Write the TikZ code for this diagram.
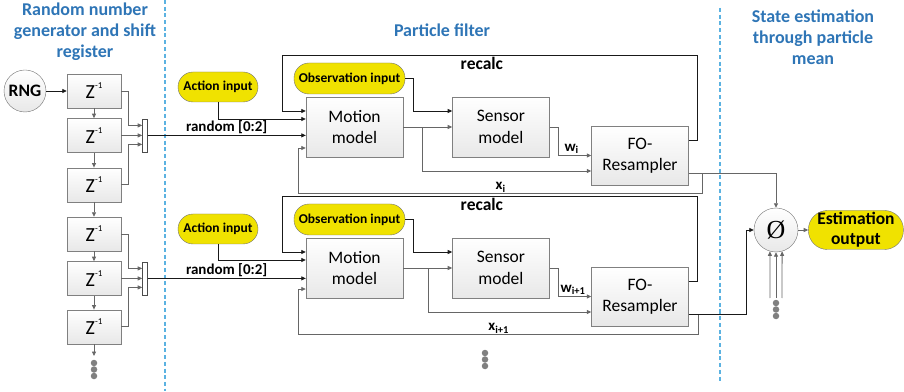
\documentclass[tikz,border=0pt]{standalone}
\usepackage{fontspec}
\setmainfont{Carlito}
\newfontfamily\phifont{Liberation Serif}
\usetikzlibrary{arrows.meta,positioning}
\definecolor{pfyellow}{RGB}{240,226,0}
\definecolor{pfblue}{RGB}{46,117,182}
\definecolor{pfsep}{RGB}{91,178,225}
\newcommand{\zinv}{{\fontsize{20}{20}\selectfont Z}\raisebox{10pt}{\fontsize{9}{9}\selectfont -1}}

\begin{document}
\begin{tikzpicture}[
    x=1pt, y=1pt,
    block/.style={draw=black!50, top color=white, bottom color=black!9, align=center, inner sep=0pt,
      minimum width=97pt, minimum height=60pt, font=\fontsize{17.5}{21.5}\selectfont},
    delay/.style={block, minimum width=54pt, minimum height=34pt},
    mux/.style={draw=black!70, fill=white, inner sep=0pt, minimum width=5pt, minimum height=33pt},
    pill/.style={draw=black!55, fill=pfyellow, inner sep=0pt, minimum height=30pt, rounded corners=15pt,
      font=\bfseries\fontsize{13.5}{16}\selectfont},
    round/.style={circle, draw=black!55, top color=white, bottom color=black!9, inner sep=0pt},
    ttl/.style={text=pfblue, align=center, font=\bfseries\fontsize{18}{21}\selectfont},
    lbl/.style={text=black, font=\bfseries\fontsize{15}{17}\selectfont, inner sep=1.5pt},
    dot/.style={circle, fill=black!50, inner sep=0pt, minimum size=6.5pt},
    sep/.style={pfsep, line width=2.8pt, dash pattern=on 4pt off 2.7pt},
    garr/.style={-{Triangle[length=4.5pt,width=4pt]}, line width=0.8pt, black!60},
    barr/.style={-{Triangle[length=4.5pt,width=4pt]}, line width=0.8pt, black!90}
  ]
  \useasboundingbox (0,0) rectangle (904,391);

  % section titles and separators
  \node[ttl] (ttlgen) at (85,359) {Random number\\generator and shift\\register};
  \node[ttl] (ttlpf) at (442,361) {Particle filter};
  \node[ttl] (ttlest) at (813,354) {State estimation\\through particle\\mean};
  \draw[sep] (165,391) -- (165,0);
  \draw[sep] (720,383) -- (720,10);

  % random number generator and shift register
  \node[round, minimum size=42pt, font=\bfseries\fontsize{17.5}{20}\selectfont] (rng) at (25,300) {RNG};
  \node[delay] (z1) at (94,300) {\zinv};
  \node[delay, below=10pt of z1] (z2) {\zinv};
  \node[delay, below=15pt of z2] (z3) {\zinv};
  \node[delay] (z4) at (94,157) {\zinv};
  \node[delay, below=10pt of z4] (z5) {\zinv};
  \node[delay, below=14pt of z5] (z6) {\zinv};
  \node[mux, right=21pt of z2] (mux1) {};
  \node[mux, right=21pt of z5] (mux2) {};
  \coordinate (zend) at (94,35);
  \node[dot] (zdot1) at (94,28) {};
  \node[dot] (zdot2) at (94,21.5) {};
  \node[dot] (zdot3) at (94,15) {};

  \draw[barr] (rng) -- (z1);
  \draw[garr] (z1) -- (z2);
  \draw[garr] (z2) -- (z3);
  \draw[garr] (z3) -- (z4);
  \draw[garr] (z4) -- (z5);
  \draw[garr] (z5) -- (z6);
  \draw[garr] (z6) -- (zend);
  \draw[garr] (z1.east) -- ++(7,0) |- ([yshift=10pt]mux1.west);
  \draw[garr] (z2.east) -- (mux1.west);
  \draw[garr] (z3.east) -- ++(7,0) |- ([yshift=-9pt]mux1.west);
  \draw[garr] (z4.east) -- ++(7,0) |- ([yshift=10pt]mux2.west);
  \draw[garr] (z5.east) -- (mux2.west);
  \draw[garr] (z6.east) -- ++(7,0) |- ([yshift=-9pt]mux2.west);

  % particle filter 1
  \node[pill, minimum width=80pt] (act1) at (218,304) {Action input};
  \node[pill, minimum width=111pt, minimum height=31pt] (obs1) at (349.5,312.5) {Observation input};
  \node[block] (motion1) at (354.5,264) {Motion\\model};
  \node[block, right=49pt of motion1] (sensor1) {Sensor\\model};
  \node[block, minimum height=59pt] (fo1) at (640,235.5) {FO-\\Resampler};

  \draw[barr] ([yshift=15pt]fo1.east) -- ++(9,0) -- ++(0,85.5) -- ++(-415,0)
    node[pos=0.52, below, lbl, font=\bfseries\fontsize{17.5}{20}\selectfont] {recalc}
    |- ([yshift=16pt]motion1.west);
  \draw[barr] (act1.south) |- ([yshift=8pt]motion1.west);
  \draw[barr] (mux1.east) -- (mux1.east -| motion1.west) node[midway, above, lbl] {random [0:2]};
  \draw[garr] ([yshift=-17.5pt]fo1.east) -- ++(14,0) -- ++(0,-20) -- ++(-404,0)
    node[midway, above, lbl, inner sep=0.5pt] {x\textsubscript{i}}
    |- ([yshift=-21pt]motion1.west);
  \draw[barr] (obs1.east) -- ++(8,0) |- ([yshift=16pt]sensor1.west);
  \draw[garr] (motion1.east) -- (sensor1.west);
  \draw[garr] (motion1.east) -- ++(19,0) |- ([yshift=-15.5pt]fo1.west);
  \draw[garr] (sensor1.east) -- ++(9,0) |- (fo1.west) node[pos=0.7, above, lbl] {w\textsubscript{i}};

  % particle filter 2
  \node[pill, minimum width=80pt] (act2) at (218,162) {Action input};
  \node[pill, minimum width=111pt, minimum height=31pt] (obs2) at (349.5,171.5) {Observation input};
  \node[block] (motion2) at (354.5,123) {Motion\\model};
  \node[block, right=49pt of motion2] (sensor2) {Sensor\\model};
  \node[block, minimum height=59pt] (fo2) at (640,94.5) {FO-\\Resampler};
  \node[dot] (pfdot1) at (485,38) {};
  \node[dot] (pfdot2) at (485,31.5) {};
  \node[dot] (pfdot3) at (485,25) {};

  \draw[barr] ([yshift=15pt]fo2.east) -- ++(9,0) -- ++(0,85.5) -- ++(-415,0)
    node[pos=0.52, below, lbl, font=\bfseries\fontsize{17.5}{20}\selectfont] {recalc}
    |- ([yshift=16pt]motion2.west);
  \draw[barr] (act2.south) |- ([yshift=8pt]motion2.west);
  \draw[barr] (mux2.east) -- (mux2.east -| motion2.west) node[midway, above, lbl] {random [0:2]};
  \draw[garr] ([yshift=-17.5pt]fo2.east) -- ++(10,0) -- ++(0,-20) -- ++(-400,0)
    node[midway, above, lbl, inner sep=0.5pt] {x\textsubscript{i+1}}
    |- ([yshift=-21pt]motion2.west);
  \draw[barr] (obs2.east) -- ++(8,0) |- ([yshift=16pt]sensor2.west);
  \draw[garr] (motion2.east) -- (sensor2.west);
  \draw[garr] (motion2.east) -- ++(25,0) |- ([yshift=-15.5pt]fo2.west);
  \draw[garr] (sensor2.east) -- ++(9,0) |- (fo2.west) node[pos=0.72, above, lbl] {w\textsubscript{i+1}};

  % state estimation
  \node[round, minimum size=44pt, font=\phifont\fontsize{26}{26}\selectfont] (phi) at (776,161) {Ø};
  \node[pill, right=10pt of phi, minimum width=95pt, minimum height=39pt, rounded corners=19pt,
    font=\bfseries\fontsize{17.5}{20}\selectfont, align=center] (est) {Estimation\\output};
  \coordinate (in1) at (770,93);
  \coordinate (in2) at (776,93);
  \coordinate (in3) at (782,93);
  \node[dot] (phidot1) at (776,88) {};
  \node[dot] (phidot2) at (776,81.5) {};
  \node[dot] (phidot3) at (776,75) {};

  \draw[garr] ([yshift=-17.5pt]fo1.east) -| (phi.north);
  \draw[barr] ([yshift=-17.5pt]fo2.east) -- ++(58,0) |- (phi.west);
  \draw[garr] (in1) -- (phi.254);
  \draw[garr] (in2) -- (phi.south);
  \draw[garr] (in3) -- (phi.286);
  \draw[garr] (phi) -- (est);
\end{tikzpicture}
\end{document}
